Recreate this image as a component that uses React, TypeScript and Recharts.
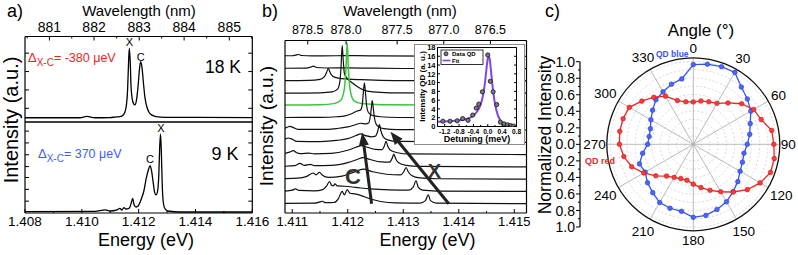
import React from 'react';
import {
  LineChart, ComposedChart, Line, Scatter, XAxis, YAxis, ReferenceLine,
  RadarChart, Radar, PolarGrid, PolarAngleAxis, PolarRadiusAxis,
} from 'recharts';

const FONT = "'Liberation Sans', Arial, Helvetica, sans-serif";
const W = 798;
const H = 255;

// ---------------- Panel a data ----------------
const spec18K: [number, number][] = [
  [1.408, 0.05], [1.40923, 0.05], [1.40994, 0.05], [1.41017, 0.065], [1.41046, 0.05],
  [1.41099, 0.052], [1.41117, 0.058], [1.41134, 0.064], [1.41145, 0.08], [1.41152, 0.12],
  [1.41157, 0.2], [1.41161, 0.37], [1.41164, 0.65], [1.41167, 0.86], [1.41171, 0.65],
  [1.41173, 0.43], [1.41177, 0.28], [1.41182, 0.215], [1.41187, 0.2], [1.41192, 0.25],
  [1.41198, 0.42], [1.41203, 0.62], [1.41207, 0.705], [1.41212, 0.63], [1.41217, 0.45],
  [1.41222, 0.29], [1.41229, 0.175], [1.41236, 0.117], [1.41247, 0.08], [1.41261, 0.064],
  [1.41293, 0.055], [1.416, 0.052],
];
const spec9K: [number, number][] = [
  [1.408, 0.015], [1.41046, 0.018], [1.41082, 0.035], [1.41099, 0.022], [1.41124, 0.035],
  [1.41134, 0.05], [1.41141, 0.033], [1.41148, 0.06], [1.41155, 0.044], [1.41166, 0.05],
  [1.41173, 0.1], [1.41179, 0.16], [1.41184, 0.088], [1.41191, 0.066], [1.41199, 0.08],
  [1.41208, 0.143], [1.41219, 0.25], [1.41227, 0.385], [1.41234, 0.47], [1.4124, 0.52],
  [1.41245, 0.47], [1.41251, 0.34], [1.41256, 0.23], [1.41261, 0.2], [1.41266, 0.23],
  [1.41271, 0.42], [1.41274, 0.72], [1.41277, 0.868], [1.4128, 0.66], [1.41283, 0.31],
  [1.41287, 0.11], [1.41293, 0.044], [1.41303, 0.022], [1.41346, 0.011], [1.416, 0.011],
];
const aEnergyTicks = [1.408, 1.409, 1.41, 1.411, 1.412, 1.413, 1.414, 1.415, 1.416];
const aWavelengthTickE = [1.40886, 1.41043, 1.41202, 1.4136, 1.41519];
const aWavelengthLabels = ['881', '882', '883', '884', '885'];
const aTopYTicks = [0.16, 0.375, 0.59, 0.805];
const aBotYTicks = [0.13, 0.26, 0.39, 0.51, 0.64, 0.77, 0.9];

// ---------------- Panel b data ----------------
const trace01: [number, number][] = [[1.41087, 0.05], [1.411, 0.05], [1.41106, 0.1], [1.41111, 0.15], [1.41117, 0.07], [1.41135, 0.04], [1.4118, 0.05], [1.41215, 0.06], [1.4126, 0.03], [1.4135, 0.01], [1.41522, 0]];
const trace02: [number, number][] = [[1.41087, 0.03], [1.41125, 0.04], [1.41133, 0.12], [1.41138, 0.2], [1.41144, 0.09], [1.4116, 0.05], [1.412, 0.06], [1.4124, 0.04], [1.413, 0.01], [1.41522, 0]];
const trace03: [number, number][] = [[1.41087, 0.02], [1.4113, 0.04], [1.4115, 0.12], [1.41158, 0.35], [1.41162, 0.7], [1.41165, 1.03], [1.41168, 0.7], [1.41173, 0.38], [1.41183, 0.22], [1.412, 0.15], [1.41225, 0.1], [1.4126, 0.05], [1.4131, 0.02], [1.41522, 0]];
const trace04: [number, number][] = [[1.41087, 0], [1.4115, 0.03], [1.41172, 0.1], [1.41182, 0.35], [1.41186, 1.0], [1.41188, 2.2], [1.4119, 3.88], [1.41192, 2.6], [1.41194, 1.6], [1.41199, 1.2], [1.41205, 0.95], [1.41217, 0.55], [1.41228, 0.27], [1.41245, 0.1], [1.41275, 0.03], [1.41522, 0]];
const trace05: [number, number][] = [[1.41087, 0.03], [1.4115, 0.06], [1.41175, 0.15], [1.41187, 0.4], [1.41192, 0.9], [1.41195, 1.8], [1.41197, 3.2], [1.41199, 5.1], [1.41201, 3.2], [1.41203, 1.8], [1.41206, 0.9], [1.41211, 0.4], [1.41225, 0.15], [1.4126, 0.06], [1.41522, 0.02]];
const trace06: [number, number][] = [[1.41087, 0.02], [1.4115, 0.03], [1.4118, 0.08], [1.41195, 0.15], [1.41208, 0.35], [1.41217, 0.55], [1.41223, 0.62], [1.41226, 1.0], [1.41228, 2.0], [1.4123, 2.85], [1.41232, 2.0], [1.41234, 1.0], [1.41237, 0.45], [1.41244, 0.2], [1.41259, 0.08], [1.4129, 0.02], [1.41522, 0]];
const trace07: [number, number][] = [[1.41087, 0.15], [1.41092, 0.25], [1.41096, 0.3], [1.41102, 0.2], [1.4111, 0.05], [1.4115, 0.05], [1.4118, 0.12], [1.412, 0.25], [1.41215, 0.45], [1.41223, 0.55], [1.41232, 0.5], [1.41238, 0.6], [1.41241, 1.2], [1.41243, 2.0], [1.41244, 2.4], [1.41246, 1.8], [1.41248, 1.0], [1.41251, 0.5], [1.41256, 0.25], [1.41265, 0.12], [1.4129, 0.04], [1.41522, 0]];
const trace08: [number, number][] = [[1.41087, 0.25], [1.41093, 0.35], [1.411, 0.25], [1.41108, 0.08], [1.4115, 0.06], [1.4118, 0.15], [1.412, 0.3], [1.41215, 0.55], [1.41223, 0.68], [1.41232, 0.55], [1.41242, 0.45], [1.4125, 0.5], [1.41254, 0.9], [1.41257, 1.44], [1.4126, 0.9], [1.41264, 0.45], [1.41272, 0.2], [1.4129, 0.07], [1.41522, 0]];
const trace09: [number, number][] = [[1.41087, 0.1], [1.41095, 0.2], [1.41102, 0.33], [1.41108, 0.15], [1.41115, 0.08], [1.4113, 0.12], [1.4114, 0.06], [1.4117, 0.1], [1.412, 0.35], [1.41215, 0.6], [1.41225, 0.73], [1.41235, 0.6], [1.4125, 0.42], [1.41262, 0.4], [1.41266, 0.7], [1.41269, 1.08], [1.41272, 0.7], [1.41277, 0.35], [1.4129, 0.15], [1.4131, 0.05], [1.41522, 0]];
const trace10: [number, number][] = [[1.41087, 0.05], [1.41105, 0.1], [1.41114, 0.28], [1.41122, 0.12], [1.41133, 0.2], [1.4114, 0.1], [1.4117, 0.12], [1.412, 0.35], [1.41218, 0.62], [1.41227, 0.76], [1.4124, 0.6], [1.4126, 0.4], [1.41275, 0.38], [1.4128, 0.7], [1.41283, 1.03], [1.41286, 0.7], [1.41291, 0.35], [1.41305, 0.12], [1.4133, 0.04], [1.41522, 0]];
const trace11: [number, number][] = [[1.41087, 0.05], [1.4111, 0.08], [1.41125, 0.2], [1.41138, 0.5], [1.41143, 0.35], [1.41149, 0.55], [1.41155, 0.3], [1.41165, 0.15], [1.4119, 0.25], [1.4121, 0.55], [1.41228, 0.81], [1.41245, 0.6], [1.4127, 0.4], [1.41295, 0.35], [1.41301, 0.6], [1.41305, 0.95], [1.41309, 0.6], [1.41315, 0.3], [1.4133, 0.1], [1.4136, 0.03], [1.41522, 0]];
const trace12: [number, number][] = [[1.41087, 0.03], [1.411, 0.1], [1.41106, 0.2], [1.41112, 0.08], [1.4114, 0.05], [1.41155, 0.15], [1.41162, 0.45], [1.41167, 0.81], [1.41171, 0.5], [1.41174, 0.45], [1.41177, 0.62], [1.41181, 0.45], [1.41195, 0.42], [1.41214, 0.33], [1.4124, 0.2], [1.41275, 0.12], [1.4131, 0.1], [1.41318, 0.35], [1.41323, 0.87], [1.41327, 0.35], [1.41335, 0.1], [1.4136, 0.03], [1.41522, 0]];
const trace13: [number, number][] = [[1.41087, 0.02], [1.4114, 0.04], [1.4115, 0.15], [1.41154, 0.2], [1.4116, 0.08], [1.41175, 0.1], [1.41183, 0.4], [1.4119, 1.0], [1.41194, 0.72], [1.41199, 1.14], [1.41204, 0.85], [1.41212, 0.8], [1.41223, 0.68], [1.41241, 0.38], [1.41259, 0.18], [1.41286, 0.06], [1.4133, 0.05], [1.4134, 0.25], [1.41345, 0.73], [1.41349, 0.25], [1.4136, 0.05], [1.41522, 0]];
const bTraces = [trace01, trace02, trace03, trace04, trace05, trace06, trace07, trace08, trace09, trace10, trace11, trace12, trace13];
const bTraceColors = ['#111', '#111', '#111', '#111', '#3cc43c', '#111', '#111', '#111', '#111', '#111', '#111', '#111', '#111'];
const bEnergyTicks = [1.411, 1.4115, 1.412, 1.4125, 1.413, 1.4135, 1.414, 1.4145, 1.415];
const bWavelengthTickE = [1.41128, 1.41197, 1.41289, 1.41373, 1.41457];
const bWavelengthLabels = ['878.5', '878.0', '877.5', '877.0', '876.5'];
const cArrow = [[1.41243, 0.0], [1.41226, 5.8]];
const xArrow = [[1.41382, 0.0], [1.41277, 5.85]];

// ---------------- Inset data ----------------
const insetDetuning = [-1.25, -1.05, -0.85, -0.7, -0.55, -0.42, -0.32, -0.25, -0.15, 0.0, 0.07, 0.15, 0.25, 0.35, 0.45, 0.55, 0.63, 0.72];
const insetIntensity = [1.2, 1.2, 1.3, 1.8, 1.4, 2.6, 4.2, 5.1, 7.9, 16.3, 10.3, 7.9, 5.0, 1.0, 0.6, 0.4, 0.2, 0.1];
const fitDetuning = [-1.4, -1.2, -1.0, -0.8, -0.6, -0.45, -0.35, -0.25, -0.18, -0.12, -0.07, -0.03, 0.0, 0.03, 0.06, 0.1, 0.15, 0.2, 0.28, 0.36, 0.45, 0.55, 0.65, 0.8];
const fitIntensity = [1.1, 1.15, 1.25, 1.4, 1.7, 2.2, 2.9, 4.0, 5.5, 7.6, 10.5, 13.6, 15.5, 16.0, 15.0, 11.8, 8.0, 5.2, 2.6, 1.3, 0.7, 0.4, 0.2, 0.05];
const insetXTicks = [-1.4, -1.2, -1.0, -0.8, -0.6, -0.4, -0.2, 0.0, 0.2, 0.4, 0.6, 0.8];
const insetYTicks = [0, 2, 4, 6, 8, 10, 12, 14, 16, 18];

// ---------------- Panel c data ----------------
const angles = [0, 10, 20, 30, 40, 50, 60, 70, 80, 90, 100, 110, 120, 130, 140, 150, 160, 170, 180, 190, 200, 210, 220, 230, 240, 250, 260, 270, 280, 290, 300, 310, 320, 330, 340, 350];
const qdBlue = [0.96, 0.98, 0.995, 1.0, 0.9, 0.85, 0.8, 0.73, 0.69, 0.65, 0.62, 0.63, 0.65, 0.7, 0.745, 0.8, 0.835, 0.87, 0.88, 0.82, 0.82, 0.81, 0.76, 0.72, 0.67, 0.69, 0.62, 0.55, 0.54, 0.55, 0.59, 0.64, 0.7, 0.73, 0.77, 0.8];
const qdRed = [0.51, 0.53, 0.545, 0.57, 0.65, 0.76, 0.84, 0.87, 0.96, 0.97, 0.99, 0.99, 0.93, 0.85, 0.75, 0.66, 0.59, 0.53, 0.48, 0.44, 0.44, 0.46, 0.5, 0.59, 0.69, 0.79, 0.85, 0.89, 0.9, 0.9, 0.89, 0.81, 0.74, 0.67, 0.56, 0.52];
const normTicks = [-1, -0.9, -0.8, -0.7, -0.6, -0.5, -0.4, -0.3, -0.2, -0.1, 0, 0.1, 0.2, 0.3, 0.4, 0.5, 0.6, 0.7, 0.8, 0.9, 1];
const gridValues = [0.1, 0.2, 0.3, 0.4, 0.5, 0.6, 0.7, 0.8, 0.9, 1.0];
const spokeCompass = [0, 30, 60, 90, 120, 150, 180, 210, 240, 270, 300, 330];

// ---------------- geometry ----------------
const A = { left: 25, right: 252.3, top: 36.5, mid: 122, bottom: 213 };
const B = { left: 285, right: 526.5, top: 40.5, bottom: 213 };
const INS = { left: 437.5, right: 516.5, top: 47.5, bottom: 126.5 };
const PC = { cx: 693.3, cy: 144.3, r: 86.5 };
const RMAX = 1.042;
const B_DOMAIN = [1.41087, 1.41522];
const B_YDOMAIN = [-0.757, 13.29];

// every cartesian axis is 1px thick, so the margins leave room for it
const m4 = (l: number, t: number, r: number, b: number) => ({ left: l - 1, top: t - 1, right: W - r - 1, bottom: H - b - 1 });
const axisStyle = { stroke: '#000', strokeWidth: 1.2 };

type XTickOpts = { side: 'top' | 'bottom'; len: number; minor: number; label: (v: number) => string | null; size: number; gap: number; weight?: any };
function xTickFactory(o: XTickOpts) {
  return (p: any) => {
    const v = Number(p.payload?.value);
    const lab = o.label(v);
    const d = o.side === 'top' ? 1 : -1;
    const L = lab === null ? o.minor : o.len;
    const ty = o.side === 'top' ? p.y - o.gap : p.y + o.gap + o.size * 0.72;
    return (
      <g>
        {L > 0 ? <line x1={p.x} y1={p.y} x2={p.x} y2={p.y + d * L} stroke="#000" strokeWidth={1} /> : null}
        {lab !== null ? (
          <text x={p.x} y={ty} textAnchor="middle" fontSize={o.size} fontFamily={FONT} fontWeight={o.weight ?? 'normal'} fill="#000">{lab}</text>
        ) : null}
      </g>
    );
  };
}

type YTickOpts = { side: 'left' | 'right'; len: number; minor?: number; inward: boolean; label?: (v: number) => string | null; size?: number; gap?: number; weight?: any };
function yTickFactory(o: YTickOpts) {
  return (p: any) => {
    const v = Number(p.payload?.value);
    const lab = o.label ? o.label(v) : null;
    const out = o.side === 'left' ? -1 : 1;
    const d = o.inward ? -out : out;
    const L = o.label && lab === null ? (o.minor ?? o.len) : o.len;
    const tx = p.x + out * (o.gap ?? 0);
    return (
      <g>
        <line x1={p.x} y1={p.y} x2={p.x + d * L} y2={p.y} stroke="#000" strokeWidth={1} />
        {lab !== null && o.size ? (
          <text x={tx} y={p.y + o.size * 0.36} textAnchor={o.side === 'left' ? 'end' : 'start'} fontSize={o.size} fontFamily={FONT} fontWeight={o.weight ?? 'normal'} fill="#000">{lab}</text>
        ) : null}
      </g>
    );
  };
}

const labelFrom = (ticks: number[], labels: string[]) => (v: number) => {
  const i = ticks.findIndex((t) => Math.abs(t - v) < 1e-7);
  return i >= 0 ? labels[i] : null;
};

const midTicks = (t: number[]) => {
  const step = t[1] - t[0];
  const mids = [t[0] - step / 2];
  for (let i = 0; i < t.length - 1; i++) mids.push((t[i] + t[i + 1]) / 2);
  mids.push(t[t.length - 1] + step / 2);
  return mids;
};
const aTopTicksAll = [...aWavelengthTickE, ...midTicks(aWavelengthTickE)].filter((v) => v > 1.408 && v < 1.416).sort((a, b) => a - b);

const aTopTick = xTickFactory({ side: 'top', len: 4, minor: 2, label: labelFrom(aWavelengthTickE, aWavelengthLabels), size: 14, gap: 5 });
const aBotTick = xTickFactory({ side: 'bottom', len: 4, minor: 2, label: (v) => (Math.round(v * 1000) % 2 === 0 ? v.toFixed(3) : null), size: 13.5, gap: 3.5 });
const bTopTick = xTickFactory({ side: 'top', len: 4, minor: 2, label: labelFrom(bWavelengthTickE, bWavelengthLabels), size: 12.5, gap: 7 });
const bBotTick = xTickFactory({ side: 'bottom', len: 4, minor: 2, label: (v) => (Math.abs(v * 1000 - Math.round(v * 1000)) < 1e-6 ? v.toFixed(3) : null), size: 13, gap: 3.5 });
const insXTick = xTickFactory({ side: 'bottom', len: 2.5, minor: 1.5, label: (v) => (Math.round(v * 10) % 4 === 0 ? v.toFixed(1) : null), size: 6.6, gap: 2.5, weight: 'bold' });

const Arrow = (p: any) => {
  const { x1, y1, x2, y2 } = p;
  const dx = x2 - x1;
  const dy = y2 - y1;
  const L = Math.hypot(dx, dy) || 1;
  const ux = dx / L;
  const uy = dy / L;
  const head = 13;
  const half = 5;
  const bx = x2 - ux * head;
  const by = y2 - uy * head;
  return (
    <g>
      <line x1={x1} y1={y1} x2={bx + ux * 1} y2={by + uy * 1} stroke="#222" strokeWidth={3} />
      <polygon points={`${x2},${y2} ${bx - uy * half},${by + ux * half} ${bx + uy * half},${by - ux * half}`} fill="#222" />
    </g>
  );
};

const angleTick = (p: any) => {
  const v = Number(p.payload?.value);
  if (v % 30 !== 0) return <g />;
  const dx = p.x - PC.cx;
  const dy = p.y - PC.cy;
  const d = Math.hypot(dx, dy) || 1;
  const ux = dx / d;
  const uy = dy / d;
  const size = 13.5;
  const label = String(v);
  const w = label.length * 0.556 * size;
  const h = 0.716 * size;
  const r = PC.r + 1 + 4 * Math.abs(uy) + (Math.abs(ux) * w) / 2 + (Math.abs(uy) * h) / 2;
  const lx = PC.cx + ux * r;
  const ly = PC.cy + uy * r;
  return (
    <text x={lx} y={ly + h / 2} textAnchor="middle" fontSize={size} fontFamily={FONT} fill="#000">{label}</text>
  );
};

const makeDot = (fill: string, stroke: string) => (p: any) => (
  <circle key={`d${p.index}`} cx={p.cx} cy={p.cy} r={2.3} fill={fill} stroke={stroke} strokeWidth={0.6} />
);
const insetDot = (p: any) => <circle cx={p.cx} cy={p.cy} r={2.1} fill="#7a7a7a" stroke="#111" strokeWidth={0.8} />;

export default function App() {
  const t18 = spec18K.map(([e, v]) => ({ e, v }));
  const t9 = spec9K.map(([e, v]) => ({ e, v }));
  const bTables = bTraces.map((tr, k) => tr.map(([e, v]) => ({ e, v: v + (bTraces.length - 1 - k) })));
  const insetPts = insetDetuning.map((x, i) => ({ x, y: insetIntensity[i] }));
  const fitPts = fitDetuning.map((x, i) => ({ x, y: fitIntensity[i] }));
  const polarTable = angles.map((a, i) => ({ angle: a, blue: qdBlue[i], red: qdRed[i] }));
  const normTable = normTicks.map((v, i) => ({ i, v }));
  const gridRadii = gridValues.map((v) => (v / RMAX) * PC.r);
  const spokeAngles = spokeCompass.map((c) => 90 - c);

  const abs: React.CSSProperties = { position: 'absolute', left: 0, top: 0 };
  const yIn = (side: 'left' | 'right') => yTickFactory({ side, len: 4, inward: true });

  return (
    <div style={{ position: 'absolute', left: 0, top: 0, width: W, height: H, background: '#fff', overflow: 'hidden', fontFamily: FONT }}>
      {/* Panel a - top (18 K) */}
      <div style={abs}>
        <LineChart width={W} height={H} margin={m4(A.left, A.top, A.right, A.mid)}>
          <XAxis xAxisId="e" dataKey="e" type="number" domain={[1.408, 1.416]} allowDataOverflow orientation="bottom" height={1} tick={false} tickLine={false} axisLine={axisStyle} />
          <XAxis xAxisId="wl" dataKey="e" type="number" domain={[1.408, 1.416]} allowDataOverflow orientation="top" height={1} ticks={aTopTicksAll} interval={0} tickSize={0} tickMargin={0} tickLine={false} axisLine={axisStyle} tick={aTopTick} />
          <YAxis yAxisId="l" type="number" domain={[0, 1]} allowDataOverflow width={1} ticks={aTopYTicks} interval={0} tickSize={0} tickMargin={0} tickLine={false} axisLine={axisStyle} tick={yIn('left')} />
          <YAxis yAxisId="r" orientation="right" type="number" domain={[0, 1]} allowDataOverflow width={1} ticks={aTopYTicks} interval={0} tickSize={0} tickMargin={0} tickLine={false} axisLine={axisStyle} tick={yIn('right')} />
          <Line xAxisId="e" yAxisId="l" data={t18} dataKey="v" type="monotone" stroke="#000" strokeWidth={1.3} dot={false} isAnimationActive={false} />
        </LineChart>
      </div>
      {/* Panel a - bottom (9 K) */}
      <div style={abs}>
        <LineChart width={W} height={H} margin={m4(A.left, A.mid, A.right, A.bottom)}>
          <XAxis xAxisId="e" dataKey="e" type="number" domain={[1.408, 1.416]} allowDataOverflow orientation="bottom" height={1} ticks={aEnergyTicks} interval={0} tickSize={0} tickMargin={0} tickLine={false} axisLine={axisStyle} tick={aBotTick} />
          <XAxis xAxisId="t" dataKey="e" type="number" domain={[1.408, 1.416]} allowDataOverflow orientation="top" height={1} tick={false} tickLine={false} axisLine={axisStyle} />
          <YAxis yAxisId="l" type="number" domain={[0, 1]} allowDataOverflow width={1} ticks={aBotYTicks} interval={0} tickSize={0} tickMargin={0} tickLine={false} axisLine={axisStyle} tick={yIn('left')} />
          <YAxis yAxisId="r" orientation="right" type="number" domain={[0, 1]} allowDataOverflow width={1} ticks={aBotYTicks} interval={0} tickSize={0} tickMargin={0} tickLine={false} axisLine={axisStyle} tick={yIn('right')} />
          <Line xAxisId="e" yAxisId="l" data={t9} dataKey="v" type="monotone" stroke="#000" strokeWidth={1.3} dot={false} isAnimationActive={false} />
        </LineChart>
      </div>

      {/* Panel b */}
      <div style={abs}>
        <LineChart width={W} height={H} margin={m4(B.left, B.top, B.right, B.bottom)}>
          <XAxis xAxisId="e" dataKey="e" type="number" domain={B_DOMAIN} allowDataOverflow orientation="bottom" height={1} ticks={bEnergyTicks} interval={0} tickSize={0} tickMargin={0} tickLine={false} axisLine={axisStyle} tick={bBotTick} />
          <XAxis xAxisId="wl" dataKey="e" type="number" domain={B_DOMAIN} allowDataOverflow orientation="top" height={1} ticks={bWavelengthTickE} interval={0} tickSize={0} tickMargin={0} tickLine={false} axisLine={axisStyle} tick={bTopTick} />
          <YAxis yAxisId="l" type="number" domain={B_YDOMAIN} allowDataOverflow width={1} tick={false} tickLine={false} axisLine={axisStyle} />
          <YAxis yAxisId="r" orientation="right" type="number" domain={B_YDOMAIN} allowDataOverflow width={1} tick={false} tickLine={false} axisLine={axisStyle} />
          {bTables.map((tbl, k) => (
            <Line key={k} xAxisId="e" yAxisId="l" data={tbl} dataKey="v" type="monotone" stroke={bTraceColors[k]} strokeWidth={k === 4 ? 1.5 : 1.2} dot={false} isAnimationActive={false} />
          ))}
          <ReferenceLine xAxisId="e" yAxisId="l" segment={[{ x: cArrow[0][0], y: cArrow[0][1] }, { x: cArrow[1][0], y: cArrow[1][1] }]} shape={Arrow} ifOverflow="visible" />
          <ReferenceLine xAxisId="e" yAxisId="l" segment={[{ x: xArrow[0][0], y: xArrow[0][1] }, { x: xArrow[1][0], y: xArrow[1][1] }]} shape={Arrow} ifOverflow="visible" />
        </LineChart>
      </div>

      {/* Inset background */}
      <div style={{ position: 'absolute', left: 414, top: 43.5, width: 111, height: 101.5, background: '#fff', border: '1.6px solid #8c8c8c', boxSizing: 'border-box' }} />
      {/* Inset chart */}
      <div style={abs}>
        <ComposedChart width={W} height={H} margin={m4(INS.left, INS.top, INS.right, INS.bottom)}>
          <XAxis xAxisId="x" dataKey="x" type="number" domain={[-1.4, 0.8]} allowDataOverflow orientation="bottom" height={1} ticks={insetXTicks} interval={0} tickSize={0} tickMargin={0} tickLine={false} axisLine={{ stroke: '#000', strokeWidth: 1 }} tick={insXTick} />
          <XAxis xAxisId="xt" dataKey="x" type="number" domain={[-1.4, 0.8]} allowDataOverflow orientation="top" height={1} tick={false} tickLine={false} axisLine={{ stroke: '#000', strokeWidth: 1 }} />
          <YAxis yAxisId="l" dataKey="y" type="number" domain={[0, 18]} allowDataOverflow width={1} ticks={insetYTicks} interval={0} tickSize={0} tickMargin={0} tickLine={false} axisLine={{ stroke: '#000', strokeWidth: 1 }} tick={yTickFactory({ side: 'left', len: 2.5, inward: true, label: (v) => String(v), size: 7.5, gap: 2, weight: 'bold' })} />
          <YAxis yAxisId="r" orientation="right" type="number" domain={[0, 18]} allowDataOverflow width={1} ticks={insetYTicks} interval={0} tickSize={0} tickMargin={0} tickLine={false} axisLine={{ stroke: '#000', strokeWidth: 1 }} tick={yTickFactory({ side: 'right', len: 2.5, inward: true })} />
          <Line xAxisId="x" yAxisId="l" data={fitPts} dataKey="y" type="monotone" stroke="#7d45f5" strokeWidth={2} dot={false} isAnimationActive={false} />
          <Scatter xAxisId="x" yAxisId="l" data={insetPts} dataKey="y" shape={insetDot} isAnimationActive={false} />
        </ComposedChart>
      </div>

      {/* Panel c: polar */}
      <div style={abs}>
        <RadarChart width={W} height={H} cx={PC.cx} cy={PC.cy} outerRadius={PC.r} innerRadius={0} startAngle={90} endAngle={-270} data={polarTable} margin={{ top: 0, left: 0, right: 0, bottom: 0 }}>
          <PolarGrid gridType="circle" radialLines={false} polarAngles={[]} polarRadius={gridRadii} stroke="#c9c9c9" strokeDasharray="2 2" strokeWidth={0.7} />
          <PolarGrid gridType="circle" radialLines polarAngles={spokeAngles} polarRadius={[]} innerRadius={12} stroke="#a9a9a9" strokeWidth={0.8} />
          <PolarAngleAxis dataKey="angle" tickLine={false} axisLineType="circle" axisLine={{ stroke: '#111', strokeWidth: 1.3 }} tick={angleTick} />
          <PolarRadiusAxis domain={[0, RMAX]} tick={false} axisLine={false} tickCount={2} />
          <Radar dataKey="blue" stroke="#3553f3" strokeWidth={1.3} fill="none" fillOpacity={0} dot={makeDot('#4a66ff', '#2238c8')} isAnimationActive={false} />
          <Radar dataKey="red" stroke="#f22424" strokeWidth={1.3} fill="none" fillOpacity={0} dot={makeDot('#ff3a3a', '#c41414')} isAnimationActive={false} />
        </RadarChart>
      </div>

      {/* Panel c: normalized intensity axis */}
      <div style={abs}>
        <LineChart width={W} height={H} data={normTable} margin={{ left: 579, top: 61.7, right: W - 600, bottom: H - 227 }}>
          <XAxis dataKey="i" type="number" hide height={0} />
          <YAxis type="number" domain={[-1, 1]} allowDataOverflow width={1} ticks={normTicks} interval={0} tickSize={0} tickMargin={0} tickLine={false} axisLine={axisStyle} tick={yTickFactory({ side: 'left', len: 4, minor: 2, inward: false, label: (v) => (Math.round(v * 10) % 2 === 0 ? Math.abs(v).toFixed(1) : null), size: 14, gap: 5 })} />
          <Line dataKey="v" stroke="none" strokeOpacity={0} dot={false} isAnimationActive={false} />
        </LineChart>
      </div>

      {/* Text overlay */}
      <svg width={W} height={H} style={{ position: 'absolute', left: 0, top: 0, pointerEvents: 'none' }} fontFamily={FONT}>
        {/* panel a */}
        <text x={7} y={17} fontSize={18}>a)</text>
        <text x={139} y={15.5} fontSize={15} textAnchor="middle">Wavelength (nm)</text>
        <text x={146} y={246} fontSize={18} textAnchor="middle">Energy (eV)</text>
        <text transform="translate(18,120) rotate(-90)" fontSize={20} textAnchor="middle">Intensity (a.u.)</text>
        <text x={28} y={62} fontSize={13} fill="#f01e1e">Δ<tspan fontSize={10} dy={4}>X-C</tspan><tspan fontSize={12.5} dy={-4}>= -380 μeV</tspan></text>
        <text x={38} y={158} fontSize={13} fill="#3c5cff">Δ<tspan fontSize={10} dy={4}>X-C</tspan><tspan fontSize={12.5} dy={-4}>= 370 μeV</tspan></text>
        <text x={205} y={73} fontSize={17.5}>18 K</text>
        <text x={211.5} y={160} fontSize={18}>9 K</text>
        <text x={129.5} y={46} fontSize={11} textAnchor="middle">X</text>
        <text x={140.7} y={61} fontSize={11} textAnchor="middle">C</text>
        <text x={161} y={132} fontSize={11} textAnchor="middle">X</text>
        <text x={150} y={162.5} fontSize={11} textAnchor="middle">C</text>
        {/* panel b */}
        <text x={262} y={17} fontSize={18}>b)</text>
        <text x={400} y={15.5} fontSize={15} textAnchor="middle">Wavelength (nm)</text>
        <text x={427.5} y={246} fontSize={18} textAnchor="middle">Energy (eV)</text>
        <text transform="translate(272.7,126) rotate(-90)" fontSize={19} textAnchor="middle">Intensity (a.u.)</text>
        <text x={353} y={184.4} fontSize={22} fontWeight="bold" fill="#333" textAnchor="middle">C</text>
        <text x={434.5} y={178.2} fontSize={20} fontWeight="bold" fill="#333" textAnchor="middle">X</text>
        {/* inset */}
        <text transform="translate(424.5,86.5) rotate(-90)" fontSize={8} fontWeight="bold" textAnchor="middle">Intensity QD (a. u.)</text>
        <text x={477} y={141.5} fontSize={9} fontWeight="bold" textAnchor="middle">Detuning (meV)</text>
        <rect x={441} y={50} width={42} height={14.5} fill="#fff" stroke="#000" strokeWidth={0.8} />
        <circle cx={446} cy={53.8} r={2} fill="#7a7a7a" stroke="#111" strokeWidth={0.8} />
        <text x={452} y={56} fontSize={6} fontWeight="bold">Data QD</text>
        <line x1={442.5} y1={60.5} x2={450.5} y2={60.5} stroke="#7d45f5" strokeWidth={1.6} />
        <text x={452} y={62.8} fontSize={6} fontWeight="bold">Fit</text>
        {/* panel c */}
        <text x={545} y={17} fontSize={18}>c)</text>
        <text x={701} y={36} fontSize={17} textAnchor="middle">Angle (°)</text>
        <text transform="translate(551.3,135) rotate(-90)" fontSize={17.5} textAnchor="middle">Normalized Intensity</text>
        <text x={656} y={57} fontSize={8.5} fontWeight="bold" fill="#3553f3">QD blue</text>
        <text x={585} y={164} fontSize={9} fontWeight="bold" fill="#f22424">QD red</text>
      </svg>
    </div>
  );
}
